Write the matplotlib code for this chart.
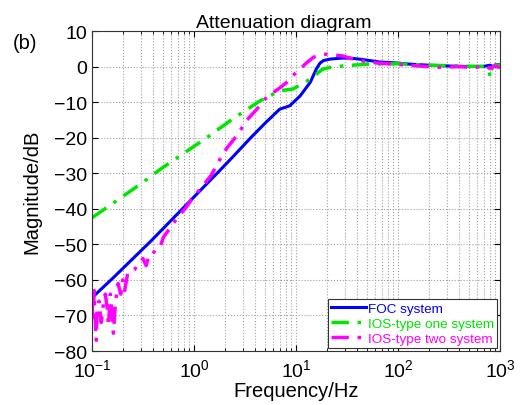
import numpy as np
import matplotlib.pyplot as plt

plt.rcParams['font.family'] = ['Liberation Sans', 'DejaVu Sans']

# ---- data ----
foc_f = [0.1, 0.16, 0.38, 0.8, 1.75, 2.4, 3.6, 5.1, 5.6, 6.9, 8.7, 11.0, 13.8,
         15.8, 17.2, 18.6, 21.4, 28.0, 34.0, 45.0, 66.0, 100.0, 130.0, 200.0,
         300.0, 500.0, 700.0, 800.0, 850.0, 900.0, 1000.0]
foc_db = [-65.0, -59.5, -49.0, -39.5, -29.5, -25.4, -20.0, -15.6, -14.5, -12.0,
          -11.0, -8.2, -4.4, -0.7, 1.0, 1.7, 2.1, 2.4, 2.4, 2.0, 1.3, 1.0, 0.7,
          0.4, 0.2, 0.0, 0.1, 0.4, 0.0, 0.5, 0.6]

ios1_f = [0.1, 0.15, 0.3, 0.46, 1.33, 2.4, 4.4, 6.9, 9.3, 13.8, 18.2, 22.0,
          29.0, 50.0, 100.0, 200.0, 400.0, 700.0, 780.0, 800.0, 820.0, 870.0,
          1000.0]
ios1_db = [-42.5, -39.0, -33.0, -29.0, -20.0, -14.7, -9.7, -6.8, -6.3,
           -3.5, -0.7, -0.2, 0.2, 0.7, 0.8, 0.4, 0.2, 0.0, -1.0, -3.0, -1.0,
           0.3, 0.5]

ios2_f = [0.100, 0.102, 0.105, 0.107, 0.110, 0.112, 0.117, 0.123, 0.129, 0.135,
          0.141, 0.145, 0.151, 0.158, 0.162, 0.170, 0.180, 0.191, 0.200, 0.209,
          0.224, 0.240, 0.263, 0.288, 0.316, 0.339, 0.363, 0.389, 0.427, 0.468,
          0.501, 0.562, 0.631, 0.708, 0.813, 1.0, 1.26, 1.48, 1.8, 2.09, 2.63,
          3.31, 4.12, 5.01, 6.03, 7.08, 8.13, 9.33, 10.96, 12.6, 14.8, 17.0,
          20.0, 25.1, 28.8, 35.5, 44.7, 63.1, 100.0, 158.0, 251.0, 398.0,
          562.0, 708.0, 794.0, 891.0, 1000.0]
ios2_db = [-66, -72, -63, -70, -77, -68, -66, -72, -67, -64,
           -68, -73, -64, -70, -75, -66, -61, -64, -60, -63,
           -58, -58, -57, -55, -54, -56, -53, -53, -51, -50.5,
           -48, -46, -44, -42, -40, -36.5, -33, -30.5, -26, -23, -19.4,
           -15, -12, -9, -7.2, -5.8, -4.4, -2.5, -0.7, 1.0, 2.6, 3.3,
           3.5, 3.2, 3.0, 2.2, 1.6, 1.0, 0.6, 0.2, -0.2, 0.0,
           -0.3, 0.3, -0.5, 0.2, -0.3]

names = ['FOC system', 'IOS-type one system', 'IOS-type two system']
colors = ['#0000ff', '#00e600', '#ff00ff']

fig = plt.figure(figsize=(5.23, 4.06), dpi=100)
ax = fig.add_axes([0.176, 0.133, 0.780, 0.788])

ax.semilogx(foc_f, foc_db, color=colors[0], lw=2.2, label=names[0])
ax.semilogx(ios1_f, ios1_db, color=colors[1], lw=2.5, ls=(0, (5, 2.5, 1, 2.5)),
            label=names[1])
ax.semilogx(ios2_f, ios2_db, color=colors[2], lw=2.5, ls=(0, (5, 2.5, 1, 2.5)),
            label=names[2])

ax.set_xlim(0.1, 1000)
ax.set_ylim(-80, 10)
ax.set_yticks(np.arange(-80, 11, 10))
ax.grid(True, which='major', ls=':', color='#a0a0a0', lw=0.8)
ax.grid(True, which='minor', axis='x', ls=':', color='#a0a0a0', lw=0.8)
ax.tick_params(which='both', direction='in', top=True, right=True,
               labelsize=14)
ax.tick_params(axis='x', pad=5)
ax.tick_params(which='major', length=4)
ax.tick_params(which='minor', length=2)
for s in ax.spines.values():
    s.set_color('#333333')

ax.set_title('Attenuation diagram', fontsize=14, pad=3, x=0.47)
ax.set_xlabel('Frequency/Hz', fontsize=14.5, labelpad=1)
ax.set_ylabel('Magnitude/dB', fontsize=14.5, labelpad=9)
fig.text(0.024, 0.88, '(b)', fontsize=14.5)

leg = ax.legend(loc='lower right', fontsize=9.7, handlelength=2.6,
                fancybox=False, framealpha=1, edgecolor='#333333',
                borderpad=0.25, labelspacing=0.2, handletextpad=0.1,
                borderaxespad=0.2)
leg.get_frame().set_linewidth(0.8)
for t, c in zip(leg.get_texts(), colors):
    t.set_color(c)

fig.savefig('out.png', dpi=100)
